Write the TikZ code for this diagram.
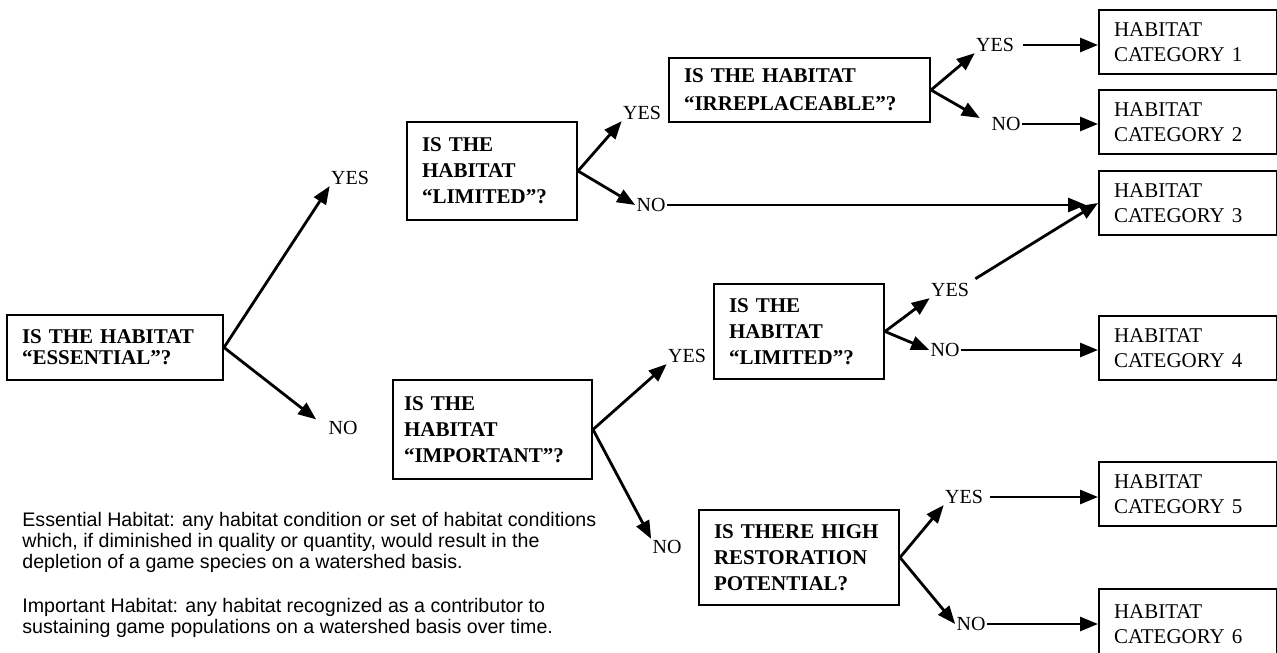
\documentclass[tikz,border=0pt]{standalone}
\usepackage{fontspec}
\setmainfont{Liberation Serif}
\setsansfont{Liberation Sans}
\usetikzlibrary{arrows.meta,
	positioning}
\tikzstyle{qbox}=[draw, line width=1pt, anchor=north west, inner xsep=7.5pt,
		inner ysep=0pt, align=left, font=\fontsize{10.5}{13}\selectfont\bfseries]
\tikzstyle{cbox}=[draw, line width=1pt, anchor=north west, inner xsep=7.5pt,
		inner ysep=0pt, align=left, text width=74pt, minimum height=32pt,
		font=\fontsize{10.5}{12.5}\selectfont]
\tikzstyle{ans}=[inner sep=0.5pt, font=\fontsize{10}{12}\selectfont]
\tikzstyle{arr}=[line width=1.4pt, -{Triangle[length=9pt,width=7pt]}]
\tikzstyle{defn}=[anchor=north west, inner sep=0pt, align=left,
		font=\sffamily\fontsize{9.8}{10.5}\selectfont]

\begin{document}
\begin{tikzpicture}[x=0.5pt, y=-0.5pt]
	\useasboundingbox (0,0) rectangle (1277,652);
	% question boxes
	\node[qbox, text width=93pt, minimum height=32.5pt,
		font=\fontsize{10.5}{10.5}\selectfont\bfseries] (ess) at (6,314) {IS THE HABITAT\\“ESSENTIAL”?};
	\node[qbox, text width=70pt, minimum height=49pt] (limA) at (406,121) {IS THE\\HABITAT\\“LIMITED”?};
	\node[qbox, text width=115.5pt, minimum height=32pt, font=\fontsize{10.5}{14}\selectfont\bfseries] (irr) at (668,57) {IS THE HABITAT\\“IRREPLACEABLE”?};
	\node[qbox, text width=88.5pt, inner xsep=5.5pt, minimum height=49.5pt] (imp) at (392,379) {IS THE\\HABITAT\\“IMPORTANT”?};
	\node[qbox, text width=70pt, minimum height=47.5pt] (limB) at (713,283) {IS THE\\HABITAT\\“LIMITED”?};
	\node[qbox, text width=85pt, minimum height=47.5pt] (rest) at (698,509) {IS THERE HIGH\\RESTORATION\\POTENTIAL?};
	% category boxes
	\foreach \i/\y in {1/9, 2/89, 3/170, 4/315, 5/461}
		\node[cbox] (cat\i) at (1098,\y) {HABITAT\\CATEGORY \i};
	\node[cbox, minimum height=35pt] (cat6) at (1098,588) {HABITAT\\CATEGORY 6};
	% answers
	\node[ans] (yesEss) at (350,178) {YES};
	\node[ans] (noEss) at (343,428) {NO};
	\node[ans] (yesLimA) at (642,113) {YES};
	\node[ans] (noLimA) at (651,205) {NO};
	\node[ans] (yesIrr) at (995,45) {YES};
	\node[ans] (noIrr) at (1006,124) {NO};
	\node[ans] (yesImp) at (687,356) {YES};
	\node[ans] (noImp) at (667,547) {NO};
	\node[ans] (yesLimB) at (950,290) {YES};
	\node[ans] (noLimB) at (945,350) {NO};
	\node[ans] (yesRest) at (964,497) {YES};
	\node[ans] (noRest) at (971,624) {NO};
	% arrows
	\draw[arr] (ess.east) -- (yesEss.south west);
	\draw[arr, shorten >=7pt] (ess.east) -- (noEss.west);
	\draw[arr] (limA.east) -- (yesLimA.south west);
	\draw[arr] (limA.east) -- (noLimA.west);
	\draw[arr, shorten >=6pt] (noLimA.east) -- (noLimA.east -| cat3.west);
	\draw[arr] (irr.east) -- (yesIrr.south west);
	\draw[arr, shorten >=6pt] (irr.east) -- (noIrr.west);
	\draw[arr, shorten <=4pt] (yesIrr.east) -- (yesIrr.east -| cat1.west);
	\draw[arr] (noIrr.east) -- (noIrr.east -| cat2.west);
	\draw[arr] (imp.east) -- (yesImp.south west);
	\draw[arr] (imp.east) -- (noImp.north west);
	\draw[arr] (limB.east) -- (yesLimB.south west);
	\draw[arr] (limB.east) -- (noLimB.west);
	\draw[arr, shorten <=3pt] (yesLimB.north east) -- (cat3.west);
	\draw[arr] (noLimB.east) -- (noLimB.east -| cat4.west);
	\draw[arr] (rest.east) -- (yesRest.south west);
	\draw[arr] (rest.east) -- (noRest.west);
	\draw[arr, shorten <=3pt] (yesRest.east) -- (yesRest.east -| cat5.west);
	\draw[arr] (noRest.east) -- (noRest.east -| cat6.west);
	% definitions
	\node[defn] (defEss) at (22,512) {Essential Habitat: any habitat condition or set of habitat conditions\\which, if diminished in quality or quantity, would result in the\\depletion of a game species on a watershed basis.};
	\node[defn] (defImp) at (22,598) {Important Habitat: any habitat recognized as a contributor to\\sustaining game populations on a watershed basis over time.};
\end{tikzpicture}
\end{document}
